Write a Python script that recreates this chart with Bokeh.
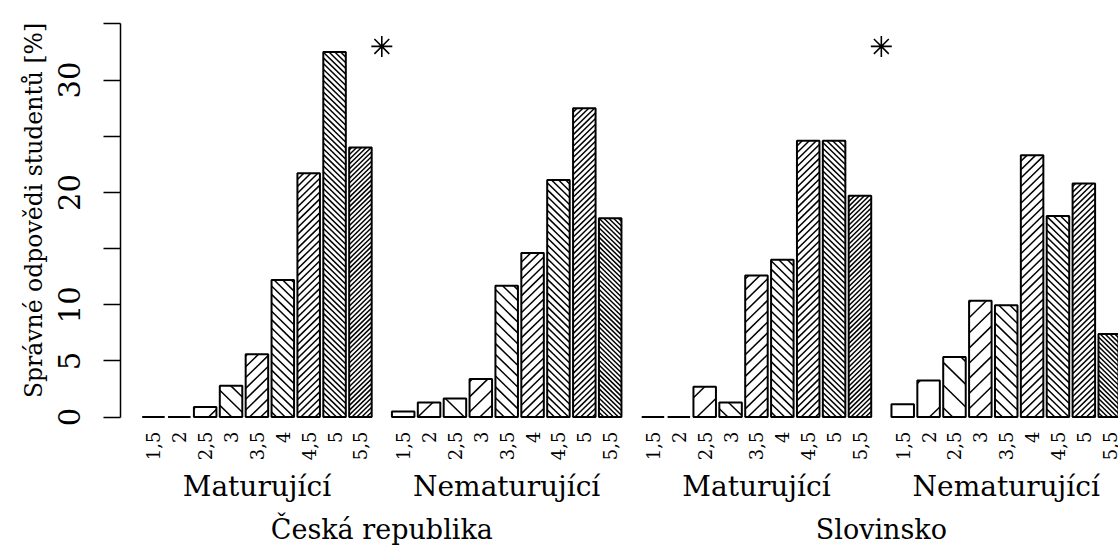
import math

from bokeh.embed import file_html
from bokeh.models import FixedTicker, LinearAxis, Range1d
from bokeh.plotting import figure
from bokeh.resources import INLINE

# --- data -----------------------------------------------------------------
grades = ["1,5", "2", "2,5", "3", "3,5", "4", "4,5", "5", "5,5"]
groups = ["Maturující", "Nematurující", "Maturující", "Nematurující"]
countries = ["Česká republika", "Slovinsko"]

cz_mat = [0.0, 0.0, 0.9, 2.8, 5.6, 12.2, 21.7, 32.5, 24.0]
cz_nemat = [0.5, 1.3, 1.65, 3.4, 11.7, 14.6, 21.1, 27.5, 17.7]
sk_mat = [0.0, 0.0, 2.7, 1.3, 12.6, 14.0, 24.6, 24.6, 19.7]
sk_nemat = [1.15, 3.25, 5.35, 10.35, 9.95, 23.3, 17.9, 20.8, 7.4]

# hatch density per grade (0 = plain white bar)
hatch_density = [0, 1, 2, 3, 4.2, 5.4, 6.6, 8, 9.6]

# significance stars between the two groups of each country
sig_y = [33, 33]

y_ticks = [0, 5, 10, 15, 20, 25, 30, 35]
y_tick_text = {0: "0", 5: "5", 10: "10", 15: "", 20: "20", 25: "", 30: "30", 35: ""}

# --- layout (barplot-style units: bar width 1) ----------------------------
BAR_W = 1.0
SPACE = 0.15
GROUP_SPACE = 0.9
W, H = 1118, 547
LEFT, BOTTOM = 120, 117
X0, X1 = -0.813, 43.54
Y0, Y1 = -0.304, 37.087
PX_X = (W - LEFT) / (X1 - X0)
PX_Y = (H - BOTTOM) / (Y1 - Y0)
HATCH_BASE = 2.067  # horizontal hatch spacing (x units) at density 1

series = [cz_mat, cz_nemat, sk_mat, sk_nemat]

lefts, tops, dens, idx = [], [], [], []
group_centers = []
pos = SPACE
for g, vals in enumerate(series):
    if g > 0:
        pos += GROUP_SPACE - SPACE
    start = pos
    for i, v in enumerate(vals):
        lefts.append(round(pos, 4))
        tops.append(v)
        dens.append(hatch_density[i])
        idx.append(len(idx))
        pos += BAR_W + SPACE
    group_centers.append(round((start + pos - SPACE) / 2, 4))

centers = [round(l + BAR_W / 2, 4) for l in lefts]
rights = [round(l + BAR_W, 4) for l in lefts]
country_centers = [round((group_centers[0] + group_centers[1]) / 2, 4),
                   round((group_centers[2] + group_centers[3]) / 2, 4)]
sig_x = [round((rights[8] + lefts[9]) / 2, 4), round((rights[26] + lefts[27]) / 2, 4)]


def hatch_segments(x0, x1, h, k, rising):
    """45-degree (on screen) hatch lines clipped to the bar rectangle."""
    if k == 0 or h <= 0:
        return []
    shift = HATCH_BASE / k
    m = PX_X / PX_Y
    reach = h / m
    segs = []
    if rising:
        n0 = math.floor((x0 - reach) / shift) - 1
        n1 = math.ceil(x1 / shift) + 1
        for n in range(n0, n1 + 1):
            xb = n * shift
            a, b = max(x0, xb), min(x1, xb + reach)
            if b > a:
                segs.append((a, m * (a - xb), b, m * (b - xb)))
    else:
        n0 = math.floor(x0 / shift) - 1
        n1 = math.ceil((x1 + reach) / shift) + 1
        for n in range(n0, n1 + 1):
            xb = n * shift
            a, b = max(x0, xb - reach), min(x1, xb)
            if b > a:
                segs.append((a, -m * (a - xb), b, -m * (b - xb)))
    return segs


hx0, hy0, hx1, hy1 = [], [], [], []
for l, r, t, k, j in zip(lefts, rights, tops, dens, idx):
    for s in hatch_segments(l, r, t, k, j % 2 == 0):
        hx0.append(s[0]); hy0.append(s[1]); hx1.append(s[2]); hy1.append(s[3])

# --- figure ----------------------------------------------------------------
FONT = "DejaVu Serif"

p = figure(width=W, height=H, output_backend="svg", toolbar_location=None,
           x_range=Range1d(X0, X1), y_range=Range1d(Y0, Y1),
           title="Správné odpovědi studentů [%]", title_location="left",
           min_border_left=LEFT, min_border_right=0, min_border_top=0,
           min_border_bottom=BOTTOM)
p.grid.visible = False
p.outline_line_color = None
p.background_fill_color = "white"
p.border_fill_color = "white"

p.title.align = "center"
p.title.offset = 20
p.title.text_font = "DejaVu Serif"
p.title.text_font_size = "23.5px"
p.title.text_font_style = "normal"
p.title.text_color = "black"
p.title.standoff = 16

p.vbar(x=centers, width=BAR_W, top=tops, bottom=0, fill_color="white", line_color=None)
p.segment(x0=hx0, y0=hy0, x1=hx1, y1=hy1, line_color="black", line_width=1.5)
p.vbar(x=centers, width=BAR_W, top=tops, bottom=0, fill_color=None,
       line_color="black", line_width=2)
p.scatter(x=sig_x, y=sig_y, marker="asterisk", size=21, line_color="black",
          line_width=1.6)

# y axis
ya = p.yaxis[0]
ya.ticker = FixedTicker(ticks=y_ticks)
ya.major_label_overrides = y_tick_text
ya.bounds = (0, 35)
ya.minor_tick_line_color = None
ya.major_tick_out = 17
ya.major_tick_in = 0
ya.axis_line_width = 1.5
ya.major_tick_line_width = 1.5
ya.major_label_orientation = "vertical"
ya.major_label_standoff = 23
ya.major_label_text_font = FONT
ya.major_label_text_font_size = "29px"
ya.major_label_text_color = "black"
ya.axis_line_color = "black"
ya.major_tick_line_color = "black"

# x axis: grade labels under each bar
xa = p.xaxis[0]
xa.ticker = FixedTicker(ticks=centers)
xa.major_label_overrides = {c: grades[i % 9] for i, c in enumerate(centers)}
xa.major_label_orientation = math.pi / 2
xa.axis_line_color = None
xa.major_tick_line_color = None
xa.minor_tick_line_color = None
xa.major_label_standoff = 5
xa.major_label_text_font = FONT
xa.major_label_text_font_size = "18px"
xa.major_label_text_color = "black"

# group and country rows
ga = LinearAxis(ticker=FixedTicker(ticks=group_centers),
                major_label_overrides={c: groups[i] for i, c in enumerate(group_centers)},
                axis_line_color=None, major_tick_line_color=None,
                minor_tick_line_color=None, major_label_standoff=0,
                major_label_text_font=FONT, major_label_text_font_size="28px",
                major_label_text_color="black")
p.add_layout(ga, "below")

ca = LinearAxis(ticker=FixedTicker(ticks=country_centers),
                major_label_overrides={c: countries[i] for i, c in enumerate(country_centers)},
                axis_line_color=None, major_tick_line_color=None,
                minor_tick_line_color=None, major_label_standoff=2,
                major_label_text_font=FONT, major_label_text_font_size="27px",
                major_label_text_color="black")
p.add_layout(ca, "below")

open("out.html", "w").write(file_html(p, INLINE))
